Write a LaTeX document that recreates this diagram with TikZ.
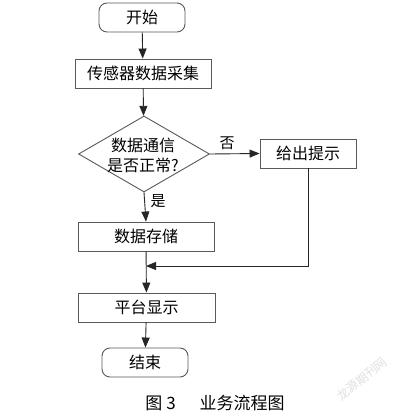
\documentclass[tikz,border=0pt]{standalone}
\usepackage{fontspec}
\setmainfont{Noto Sans CJK SC}
\usetikzlibrary{shapes.geometric,arrows.meta}
\begin{document}
\begin{tikzpicture}[x=1pt,y=-1pt,
  every node/.style={font=\fontsize{16}{19}\selectfont},
  boxline/.style={draw=black!65, line width=0.9pt},
  procbox/.style={boxline, rectangle, minimum width=136, minimum height=29, inner sep=0},
  termbox/.style={boxline, rectangle, rounded corners=8, minimum width=86, minimum height=29, inner sep=0},
  decbox/.style={boxline, diamond, minimum width=131, minimum height=76, inner sep=0, aspect=1.72},
  arr/.style={draw=black!85, line width=0.9pt, -{Triangle[length=10pt,width=8pt]}},
  lbl/.style={font=\fontsize{15}{17}\selectfont}
]
\useasboundingbox (0,0) rectangle (403,420);
\fill[white] (0,0) rectangle (403,420);
\node[termbox] (start) at (142,17.5) {开始};
\node[procbox] (collect) at (143,73.5) {传感器数据采集};
\node[decbox] (dec) at (144,154) {};
\node[align=center, font=\fontsize{16}{20}\selectfont] (dectext) at (143,155) {数据通信\\是否正常?};
\node[procbox, minimum width=96] (tip) at (308,153.5) {给出提示};
\node[procbox] (store) at (146,236.5) {数据存储};
\node[procbox, minimum width=137] (disp) at (146.5,307.5) {平台显示};
\node[termbox] (end) at (145,362.5) {结束};
\coordinate (j) at (146,266);
\draw[arr] (start) -- (collect);
\draw[arr] (collect) -- (dec);
\draw[arr] (dec.east) -- (tip.west);
\node[lbl] (no) at (227,143) {否};
\draw[arr] (dec.south) -- (store.north);
\node[lbl] (yes) at (158,201) {是};
\draw[arr] (store) -- (disp);
\draw[arr] (tip.south) |- (j);
\draw[arr] (disp) -- (end);
\node[font=\fontsize{17}{19}\selectfont] (cap) at (215,403) {图 3\hspace{1.4em}业务流程图};
\node[rotate=39, text=black!12, font=\fontsize{12}{14}\selectfont] (wm) at (362,379) {龙源期刊网};
\end{tikzpicture}
\end{document}
